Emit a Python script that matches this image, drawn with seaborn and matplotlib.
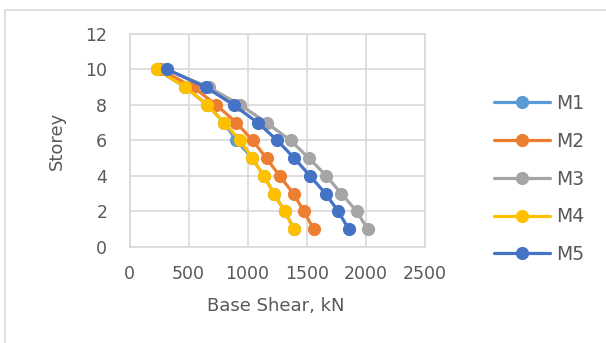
import pandas as pd
import seaborn as sns
import matplotlib.pyplot as plt
from matplotlib.patches import Rectangle

# storeys and base shear (kN)
storey = [10, 9, 8, 7, 6, 5, 4, 3, 2, 1]
m1 = [229, 474, 660, 800, 905, 1039, 1137, 1225, 1314, 1395]
m2 = [260, 540, 735, 905, 1042, 1160, 1271, 1389, 1477, 1559]
m3 = [310, 670, 938, 1160, 1363, 1520, 1667, 1794, 1925, 2016]
m4 = [229, 474, 660, 800, 938, 1039, 1137, 1225, 1314, 1395]
m5 = [320, 647, 882, 1085, 1252, 1395, 1529, 1660, 1768, 1856]
models = ['M1', 'M2', 'M3', 'M4', 'M5']
colors = ['#5B9BD5', '#ED7D31', '#A5A5A5', '#FFC000', '#4472C4']

rows = []
for name, vals in zip(models, [m1, m2, m3, m4, m5]):
    for s, v in zip(storey, vals):
        rows.append({'model': name, 'shear': v, 'storey': s})
df = pd.DataFrame(rows)

sns.set_style('white')
plt.rcParams['font.family'] = ['DejaVu Sans']

fig = plt.figure(figsize=(6.06, 3.43), dpi=100)
ax = fig.add_axes([0.2137, 0.28, 0.701 - 0.2137, 0.901 - 0.28])

sns.lineplot(data=df, x='shear', y='storey', hue='model', palette=colors,
             sort=False, marker='o', markersize=9.5, markeredgewidth=0,
             linewidth=2.3, ax=ax, legend=True)

ax.set_xlim(0, 2500)
ax.set_ylim(0, 12)
ax.set_xticks(range(0, 2501, 500))
ax.set_yticks(range(0, 13, 2))
ax.grid(True, color='#d9d9d9', linewidth=1.2)
ax.set_axisbelow(True)
for sp in ax.spines.values():
    sp.set_color('#d9d9d9')
    sp.set_linewidth(1.2)
ax.tick_params(colors='#595959', labelsize=12.5, length=0)
ax.tick_params(axis='x', pad=13)
ax.tick_params(axis='y', pad=16)
ax.set_xlabel('Base Shear, kN', color='#595959', fontsize=13)
ax.set_ylabel('Storey', color='#595959', fontsize=13)
ax.xaxis.set_label_coords(0.496, -0.235)
ax.yaxis.set_label_coords(-0.215, 0.5)

handles, labels = ax.get_legend_handles_labels()
ax.legend_.remove()
fig.legend(handles, labels, loc='upper left', bbox_to_anchor=(0.787, 0.775),
           frameon=False, fontsize=13.5, labelcolor='#595959',
           handlelength=3.0, handletextpad=0.3, labelspacing=1.0)

fig.patches.append(Rectangle((4.6 / 606, -0.1), 1.2, 1.1 - 9.5 / 343,
                             transform=fig.transFigure, fill=False,
                             edgecolor='#d9d9d9', linewidth=1.2))

fig.savefig('out.png', dpi=100)
